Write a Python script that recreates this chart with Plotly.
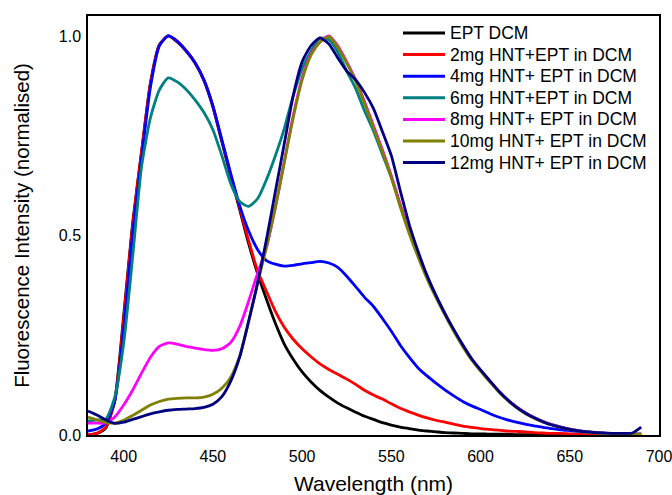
import plotly.graph_objects as go

wavelength = [380, 385, 390, 395, 400, 405, 410, 415, 420, 425, 430, 435, 440, 445, 450,
              455, 460, 465, 470, 475, 480, 485, 490, 495, 500, 505, 510, 515, 520, 525,
              530, 535, 540, 545, 550, 555, 560, 565, 570, 575, 580, 585, 590, 595, 600,
              605, 610, 615, 620, 625, 630, 635, 640, 645, 650, 655, 660, 665, 670, 675,
              680, 685, 690]

ept_dcm = [0.000, 0.004, 0.018, 0.088, 0.300, 0.530, 0.710, 0.883, 0.978, 1.000, 0.985, 0.962,
           0.932, 0.888, 0.822, 0.735, 0.648, 0.565, 0.480, 0.405, 0.340, 0.280, 0.228, 0.190,
           0.158, 0.133, 0.112, 0.095, 0.080, 0.068, 0.057, 0.047, 0.039, 0.031, 0.025, 0.020,
           0.016, 0.012, 0.010, 0.008, 0.006, 0.005, 0.004, 0.003, 0.003, 0.002, 0.002, 0.002,
           0.001, 0.001, 0.001, 0.001, 0.001, 0.001, 0.000, 0.000, 0.000, 0.000, 0.000, 0.000,
           0.000, 0.000, 0.000]

hnt_2mg = [0.000, 0.004, 0.020, 0.085, 0.290, 0.525, 0.708, 0.880, 0.977, 1.000, 0.986, 0.963,
           0.933, 0.889, 0.824, 0.738, 0.652, 0.570, 0.488, 0.412, 0.360, 0.310, 0.270, 0.240,
           0.216, 0.196, 0.178, 0.164, 0.152, 0.140, 0.127, 0.112, 0.100, 0.090, 0.078, 0.067,
           0.058, 0.050, 0.043, 0.037, 0.032, 0.027, 0.022, 0.019, 0.016, 0.014, 0.012, 0.010,
           0.009, 0.008, 0.006, 0.005, 0.004, 0.004, 0.003, 0.002, 0.002, 0.001, 0.001, 0.001,
           0.000, 0.000, 0.000]

hnt_4mg = [0.010, 0.015, 0.030, 0.085, 0.265, 0.505, 0.692, 0.872, 0.975, 1.000, 0.987, 0.963,
           0.933, 0.890, 0.825, 0.740, 0.655, 0.575, 0.512, 0.465, 0.437, 0.428, 0.423, 0.425,
           0.429, 0.432, 0.435, 0.431, 0.420, 0.398, 0.372, 0.345, 0.322, 0.292, 0.260, 0.225,
           0.195, 0.168, 0.148, 0.130, 0.113, 0.098, 0.084, 0.073, 0.064, 0.054, 0.045, 0.038,
           0.032, 0.027, 0.023, 0.019, 0.016, 0.013, 0.011, 0.009, 0.007, 0.006, 0.004, 0.003,
           0.003, 0.002, 0.002]

hnt_6mg = [0.035, 0.038, 0.040, 0.095, 0.230, 0.445, 0.672, 0.795, 0.865, 0.895, 0.885, 0.866,
           0.840, 0.808, 0.765, 0.700, 0.630, 0.585, 0.573, 0.592, 0.640, 0.700, 0.768, 0.850,
           0.918, 0.962, 0.995, 0.990, 0.960, 0.912, 0.868, 0.812, 0.762, 0.703, 0.645, 0.575,
           0.510, 0.450, 0.395, 0.347, 0.303, 0.262, 0.225, 0.190, 0.162, 0.136, 0.110, 0.089,
           0.071, 0.056, 0.044, 0.034, 0.026, 0.020, 0.015, 0.011, 0.008, 0.006, 0.004, 0.003,
           0.002, 0.002, 0.003]

hnt_8mg = [0.030, 0.030, 0.030, 0.045, 0.075, 0.112, 0.155, 0.195, 0.222, 0.231, 0.228, 0.222,
           0.218, 0.214, 0.212, 0.216, 0.232, 0.272, 0.335, 0.405, 0.470, 0.570, 0.685, 0.800,
           0.895, 0.955, 0.985, 1.000, 0.975, 0.935, 0.890, 0.835, 0.775, 0.715, 0.650, 0.578,
           0.510, 0.450, 0.395, 0.348, 0.304, 0.262, 0.225, 0.191, 0.162, 0.136, 0.111, 0.089,
           0.071, 0.056, 0.044, 0.034, 0.026, 0.020, 0.015, 0.011, 0.008, 0.006, 0.004, 0.003,
           0.002, 0.002, 0.003]

hnt_10mg = [0.045, 0.038, 0.031, 0.030, 0.037, 0.049, 0.062, 0.075, 0.084, 0.090, 0.092, 0.093,
            0.093, 0.095, 0.102, 0.117, 0.145, 0.198, 0.283, 0.380, 0.470, 0.570, 0.683, 0.795,
            0.890, 0.952, 0.985, 0.998, 0.972, 0.932, 0.886, 0.830, 0.770, 0.710, 0.645, 0.572,
            0.505, 0.446, 0.392, 0.345, 0.301, 0.260, 0.222, 0.188, 0.160, 0.134, 0.109, 0.087,
            0.069, 0.054, 0.042, 0.033, 0.025, 0.019, 0.014, 0.010, 0.007, 0.005, 0.004, 0.003,
            0.002, 0.002, 0.002]

hnt_12mg = [0.060, 0.050, 0.038, 0.029, 0.032, 0.039, 0.046, 0.053, 0.058, 0.062, 0.064, 0.065,
            0.066, 0.069, 0.077, 0.096, 0.135, 0.195, 0.285, 0.380, 0.490, 0.610, 0.730, 0.850,
            0.935, 0.976, 0.995, 0.980, 0.945, 0.912, 0.890, 0.858, 0.818, 0.760, 0.700, 0.612,
            0.528, 0.460, 0.400, 0.350, 0.305, 0.264, 0.226, 0.191, 0.163, 0.137, 0.111, 0.089,
            0.070, 0.055, 0.043, 0.033, 0.025, 0.019, 0.014, 0.010, 0.008, 0.006, 0.005, 0.004,
            0.004, 0.005, 0.020]

series_names = ["EPT DCM", "2mg HNT+EPT in DCM", "4mg HNT+ EPT in DCM", "6mg HNT+EPT in DCM",
                "8mg HNT+ EPT in DCM", "10mg HNT+ EPT in DCM", "12mg HNT+ EPT in DCM"]
series_values = [ept_dcm, hnt_2mg, hnt_4mg, hnt_6mg, hnt_8mg, hnt_10mg, hnt_12mg]
series_colors = ["#000000", "#FF0000", "#0000FF", "#008080", "#FF00FF", "#808000", "#000080"]

x_ticks = [400, 450, 500, 550, 600, 650, 700]
y_ticks = [0.0, 0.5, 1.0]
y_tick_labels = ["0.0", "0.5", "1.0"]

FONT = "Liberation Sans, Arial, sans-serif"

W, H = 672, 495
ML, MR, MT, MB = 88, 13, 16, 60
PW, PH = W - ML - MR, H - MT - MB


def px_to_paper_x(px):
    return (px - ML) / PW


def px_to_paper_y(py):
    return (H - MB - py) / PH


fig = go.Figure()
for name, vals, col in zip(series_names, series_values, series_colors):
    fig.add_trace(go.Scatter(x=wavelength, y=vals, mode="lines", name=name, showlegend=False,
                             line=dict(color=col, width=2.8, shape="spline", smoothing=0.6)))

# legend drawn as key lines + labels, top-right inside the plot frame
leg_line_x0, leg_line_x1, leg_text_x = 403, 445, 448
leg_y0, leg_dy = 33, 21.6
shapes = []
annotations = []
for i, (name, col) in enumerate(zip(series_names, series_colors)):
    yy = px_to_paper_y(leg_y0 + i * leg_dy)
    shapes.append(dict(type="line", xref="paper", yref="paper",
                       x0=px_to_paper_x(leg_line_x0), x1=px_to_paper_x(leg_line_x1), y0=yy, y1=yy,
                       line=dict(color=col, width=3)))
    annotations.append(dict(xref="paper", yref="paper", x=px_to_paper_x(leg_text_x), y=yy,
                            xanchor="left", yanchor="middle", showarrow=False, text=name,
                            font=dict(family=FONT, size=17.5, color="#000000")))

fig.update_layout(
    width=W, height=H,
    margin=dict(l=ML, r=MR, t=MT, b=MB, autoexpand=False),
    paper_bgcolor="white", plot_bgcolor="white",
    font=dict(family=FONT, color="#000000"),
    showlegend=False,
    shapes=shapes,
    annotations=annotations,
)
fig.update_xaxes(range=[380, 700], tickvals=x_ticks, ticks="", showgrid=False, zeroline=False,
                 showline=True, mirror=True, linecolor="black", linewidth=1.5, automargin=False,
                 ticklabeloverflow="allow",
                 tickfont=dict(family=FONT, size=16), ticklabelstandoff=6,
                 title=dict(text="Wavelength (nm)", font=dict(family=FONT, size=21), standoff=15))
fig.update_yaxes(range=[0, 1.05], tickvals=y_ticks, ticktext=y_tick_labels, ticks="", showgrid=False,
                 zeroline=False, showline=True, mirror=True, linecolor="black", linewidth=1.5,
                 automargin=False, ticklabeloverflow="allow",
                 tickfont=dict(family=FONT, size=16), ticklabelstandoff=2,
                 title=dict(text="Fluorescence Intensity (normalised)", font=dict(family=FONT, size=20.5),
                            standoff=24))

fig.write_html("out.html")
